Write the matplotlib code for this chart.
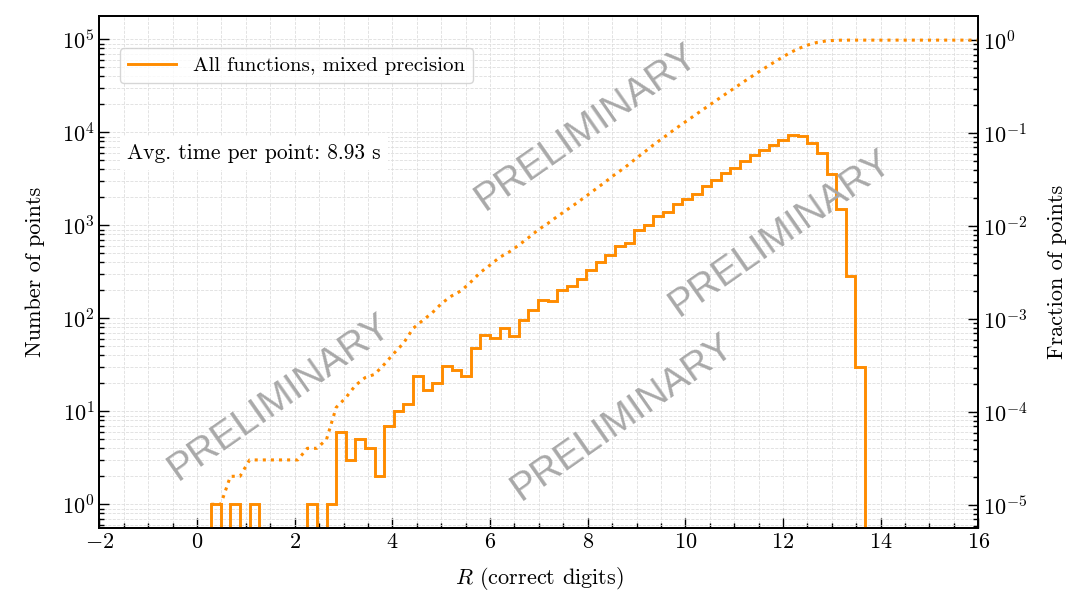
import numpy as np
import matplotlib
matplotlib.use("Agg")
import matplotlib.pyplot as plt
from matplotlib.ticker import MultipleLocator

# ================= DATA =================

# histogram of correct digits R, 68 equal bins between the smallest and largest R
R_MIN = 0.29
R_MAX = 13.68
counts = [
    1, 0, 1, 0, 1, 0, 0, 0, 0, 0,
    1, 0, 1, 6, 3, 5, 4, 2, 7, 10,
    12, 24, 17, 20, 31, 28, 24, 48, 66, 62,
    79, 65, 96, 123, 157, 153, 201, 222, 265, 328,
    400, 478, 593, 640, 888, 1020, 1270, 1380, 1680, 1930,
    2200, 2640, 3060, 3630, 4190, 4900, 5720, 6470, 7350, 8220,
    9300, 9150, 7690, 6000, 3610, 1518, 285, 30,
]
label = "All functions, mixed precision"
avg_time = "Avg. time per point: 8.93 s"
watermark = "PRELIMINARY"

ORANGE = "darkorange"

plt.rcParams["font.family"] = "serif"
plt.rcParams["font.serif"] = ["cmr10"]
plt.rcParams["mathtext.fontset"] = "cm"
plt.rcParams["axes.formatter.use_mathtext"] = True
plt.rcParams["axes.linewidth"] = 1.3

counts = np.array(counts, dtype=float)
edges = np.linspace(R_MIN, R_MAX, len(counts) + 1)
total = counts.sum()

# cumulative fraction, drawn at the left bin edges and carried to the x-limit
cum_x = np.append(edges[:-1], 16.0)
cum_y = np.append(np.cumsum(counts) / total, 1.0)

YLO, YHI = 0.56, 1.8e5

# ================= DRAW =================

fig = plt.figure(figsize=(10.67, 5.90), dpi=100)
ax = fig.add_axes([0.0931, 0.1056, 0.8238, 0.8678])

ax.stairs(counts, edges, color=ORANGE, lw=2.1, label=label, zorder=3)

ax.set_yscale("log")
ax.set_xlim(-2, 16)
ax.set_ylim(YLO, YHI)
ax.xaxis.set_major_locator(MultipleLocator(2))
ax.xaxis.set_minor_locator(MultipleLocator(0.5))
ax.grid(which="both", color="#dedede", ls="--", lw=0.6)
ax.set_axisbelow(True)

ax.tick_params(which="both", direction="in", top=False, right=False,
               labelsize=16, width=1.0)
ax.tick_params(which="major", length=7)
ax.tick_params(which="minor", length=3.5)

ax.set_xlabel("$R$ (correct digits)", fontsize=16, labelpad=9)
ax.set_ylabel("Number of points", fontsize=16, labelpad=12)

ax.legend(loc="upper left", bbox_to_anchor=(0.0236, 0.937), borderaxespad=0,
          fontsize=15, handlelength=2.3, framealpha=0.8, edgecolor="0.8")

ax.text(0.0315, 0.732, avg_time, transform=ax.transAxes, fontsize=15.5,
        va="center", ha="left",
        bbox=dict(facecolor="white", edgecolor="none", pad=5))

ax2 = ax.twinx()
ax2.plot(cum_x, cum_y, ls=":", color=ORANGE, lw=2.2)
ax2.set_yscale("log")
ax2.set_ylim(YLO / total, YHI / total)
ax2.tick_params(which="both", direction="in", labelsize=16, width=1.0)
ax2.tick_params(which="major", length=7)
ax2.tick_params(which="minor", length=3.5)
ax2.set_ylabel("Fraction of points", fontsize=16, labelpad=14)

# watermarks
for cx, cy in [(587, 127), (280, 397), (781, 233), (623, 417)]:
    fig.text(cx / 1067, 1 - cy / 590, watermark, rotation=35, fontsize=28,
             family="Liberation Sans", color="#a9a9a9",
             ha="center", va="center", zorder=5)

plt.savefig("out.png", dpi=100)
plt.close()
